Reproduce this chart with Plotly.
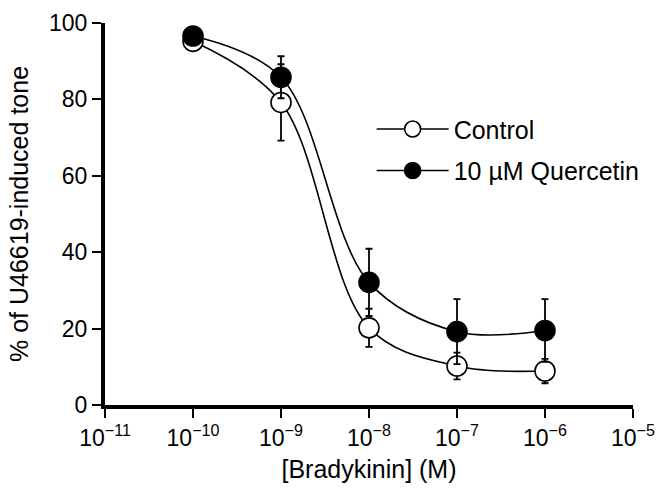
import plotly.graph_objects as go

# Data
concentrations = [1e-10, 1e-9, 1e-8, 1e-7, 1e-6]
control = [95.2, 79.2, 20.2, 10.2, 8.9]
control_err = [1.5, 10.0, 5.0, 3.5, 3.2]
quercetin = [96.6, 85.8, 32.1, 19.2, 19.5]
quercetin_err = [1.0, 5.5, 8.8, 8.5, 8.2]

x_tickvals = [1e-11, 1e-10, 1e-9, 1e-8, 1e-7, 1e-6, 1e-5]
x_ticktext = ["10<sup>\u221211</sup>", "10<sup>\u221210</sup>", "10<sup>\u22129</sup>",
              "10<sup>\u22128</sup>", "10<sup>\u22127</sup>", "10<sup>\u22126</sup>",
              "10<sup>\u22125</sup>"]
y_tickvals = [0, 20, 40, 60, 80, 100]

FONT = "Liberation Sans, Arial, sans-serif"

fig = go.Figure()

fig.add_trace(go.Scatter(
    x=concentrations, y=control, name="Control", legendgroup="a",
    mode="lines+markers",
    line=dict(color="black", width=1.6, shape="spline", smoothing=1.0),
    marker=dict(symbol="circle", size=20, color="white",
                line=dict(color="black", width=1.6)),
    error_y=dict(type="data", array=control_err, visible=True,
                 color="black", thickness=1.8, width=3.5),
))
fig.add_trace(go.Scatter(
    x=concentrations, y=quercetin, name="10 \u00b5M Quercetin", legendgroup="b",
    mode="lines+markers",
    line=dict(color="black", width=1.6, shape="spline", smoothing=1.0),
    marker=dict(symbol="circle", size=20, color="black",
                line=dict(color="black", width=1.6)),
    error_y=dict(type="data", array=quercetin_err, visible=True,
                 color="black", thickness=1.8, width=3.5),
))

fig.update_layout(
    width=662, height=492,
    margin=dict(l=105, r=29, t=23, b=87, autoexpand=False),
    paper_bgcolor="white", plot_bgcolor="white",
    font=dict(family=FONT, color="black", size=22),
    showlegend=True,
    legend=dict(x=0.505, y=0.782, xanchor="left", yanchor="top",
                font=dict(size=25, family=FONT),
                traceorder="grouped", tracegroupgap=6,
                itemwidth=72, bgcolor="rgba(0,0,0,0)"),
)
fig.update_xaxes(
    type="log", range=[-11, -5],
    tickvals=x_tickvals, ticktext=x_ticktext,
    showline=True, linecolor="black", linewidth=4,
    ticks="outside", ticklen=9, tickwidth=2, tickcolor="black",
    showgrid=False, zeroline=False, automargin=False,
    tickfont=dict(size=23, family=FONT),
    title=dict(text="[Bradykinin] (M)", font=dict(size=25, family=FONT), standoff=12),
)
fig.update_yaxes(
    range=[0, 100], tickvals=y_tickvals,
    showline=True, linecolor="black", linewidth=4,
    ticks="outside", ticklen=9, tickwidth=2, tickcolor="black",
    showgrid=False, zeroline=False, automargin=False,
    tickfont=dict(size=23, family=FONT),
    title=dict(text="% of U46619-induced tone", font=dict(size=25, family=FONT), standoff=14),
)

fig.write_html("out.html",
               config={"displayModeBar": False},
               post_script="document.body.style.margin='0';document.body.style.overflow='hidden';")
